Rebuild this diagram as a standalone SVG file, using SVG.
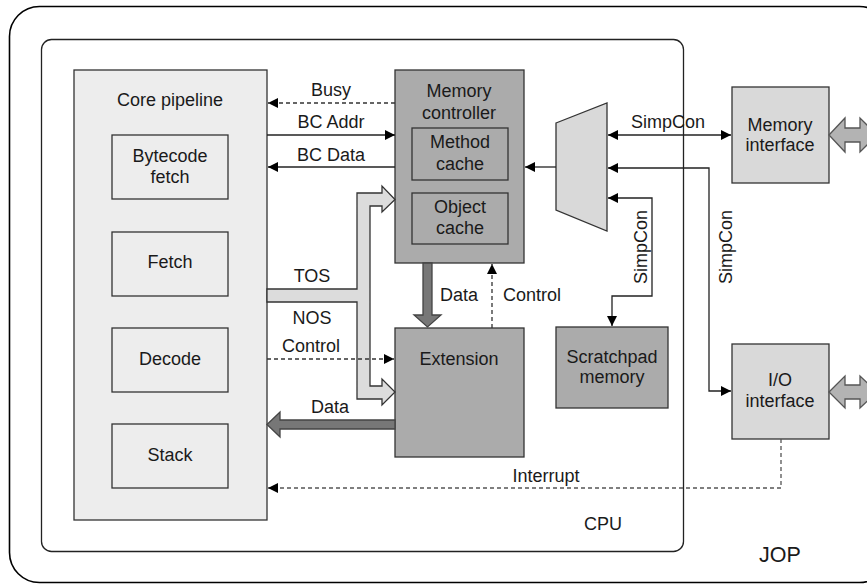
<svg xmlns="http://www.w3.org/2000/svg" width="867" height="584" viewBox="0 0 867 584">
<defs>
<marker id="ah" viewBox="0 0 10 10" refX="10" refY="5" markerWidth="11" markerHeight="10" markerUnits="userSpaceOnUse" orient="auto-start-reverse">
<path d="M0,0 L10,5 L0,10 z" fill="#000"/>
</marker>
<style>
text{font-family:"Liberation Sans",Arial,sans-serif;font-size:18px;fill:#1a1a1a;text-anchor:middle}
.box{stroke:#333;stroke-width:1.3}
.light{fill:#ededed}
.mid{fill:#d9d9d9}
.dark{fill:#ababab}
.ln{fill:none;stroke:#222;stroke-width:1.3}
.dash{fill:none;stroke:#333;stroke-width:1.3;stroke-dasharray:4,3}
.wl{fill:#dcdcdc;stroke:#333;stroke-width:1.3}
.wd{fill:#777;stroke:#444;stroke-width:1.3}
.wg{fill:#b3b3b3;stroke:#555;stroke-width:1.3}
</style>
</defs>
<g id="jop">
<rect x="9.5" y="6.5" width="880" height="576" rx="30" fill="#fff" stroke="#000" stroke-width="1.6"/>
<text x="780" y="562" style="font-size:21.5px">JOP</text>
</g>
<g id="cpu">
<rect x="41.5" y="39.5" width="642" height="512" rx="10" fill="#fff" stroke="#222" stroke-width="1.3"/>
<text x="603" y="530">CPU</text>
</g>
<g id="core-pipeline">
<rect class="box light" x="74" y="70" width="193" height="450"/>
<text x="170" y="106">Core pipeline</text>
</g>
<g id="bytecode-fetch">
<rect class="box light" x="112" y="135" width="116" height="64"/>
<text x="170" y="162">Bytecode</text>
<text x="170" y="183">fetch</text>
</g>
<g id="fetch">
<rect class="box light" x="112" y="232" width="116" height="64"/>
<text x="170" y="268">Fetch</text>
</g>
<g id="decode">
<rect class="box light" x="112" y="328" width="116" height="64"/>
<text x="170" y="365">Decode</text>
</g>
<g id="stack">
<rect class="box light" x="112" y="424" width="116" height="64"/>
<text x="170" y="461">Stack</text>
</g>
<g id="memory-controller">
<rect class="box dark" x="395" y="70" width="129" height="193"/>
<text x="459" y="97">Memory</text>
<text x="459" y="119">controller</text>
</g>
<g id="method-cache">
<rect class="box dark" x="412" y="128" width="96" height="52"/>
<text x="460" y="148">Method</text>
<text x="460" y="170">cache</text>
</g>
<g id="object-cache">
<rect class="box dark" x="412" y="193" width="96" height="51"/>
<text x="460" y="213">Object</text>
<text x="460" y="234">cache</text>
</g>
<g id="extension">
<rect class="box dark" x="395" y="328" width="129" height="129"/>
<text x="459" y="365">Extension</text>
</g>
<g id="mux">
<polygon class="box mid" points="556,123 607,103 607,231 556,210"/>
</g>
<g id="scratchpad">
<rect class="box dark" x="556" y="327" width="112" height="81"/>
<text x="612" y="363">Scratchpad</text>
<text x="612" y="383">memory</text>
</g>
<g id="memory-interface">
<rect class="box mid" x="732" y="87" width="97" height="96"/>
<text x="780" y="131">Memory</text>
<text x="780" y="151">interface</text>
</g>
<g id="io-interface">
<rect class="box mid" x="732" y="344" width="97" height="95"/>
<text x="780" y="386">I/O</text>
<text x="780" y="407">interface</text>
</g>
<g id="connectors">
<line class="dash" x1="395" y1="103" x2="268" y2="103" marker-end="url(#ah)"/>
<text x="331" y="96">Busy</text>
<line class="ln" x1="267" y1="135" x2="395" y2="135" marker-end="url(#ah)"/>
<text x="331" y="128">BC Addr</text>
<line class="ln" x1="395" y1="167" x2="268" y2="167" marker-end="url(#ah)"/>
<text x="331" y="161">BC Data</text>
<line class="ln" x1="556" y1="167" x2="525" y2="167" marker-end="url(#ah)"/>
<line class="ln" x1="608" y1="135" x2="731" y2="135" marker-start="url(#ah)" marker-end="url(#ah)"/>
<text x="668" y="128">SimpCon</text>
<polyline class="ln" points="608,168 709,168 709,391 731,391" marker-start="url(#ah)" marker-end="url(#ah)"/>
<text transform="translate(732,247) rotate(-90)" x="0" y="0">SimpCon</text>
<polyline class="ln" points="608,198 652,198 652,296 612,296 612,326" marker-start="url(#ah)" marker-end="url(#ah)"/>
<text transform="translate(647,247) rotate(-90)" x="0" y="0">SimpCon</text>
<polygon class="wl" points="267,289 357,289 357,193 382,193 382,186 395,199.5 382,212 382,206 370,206 370,386 382,386 382,379 395,392 382,405 382,399 357,399 357,302 267,302"/>
<text x="312" y="282">TOS</text>
<text x="312" y="324">NOS</text>
<line class="dash" x1="267" y1="359" x2="394" y2="359" marker-end="url(#ah)"/>
<text x="311" y="352">Control</text>
<polygon class="wd" points="395,420 280,420 280,412 267,424.5 280,437 280,429 395,429"/>
<text x="330" y="413">Data</text>
<polygon class="wd" points="423,263 432,263 432,315 441,315 427.5,327 414,315 423,315"/>
<text x="459" y="301">Data</text>
<line class="dash" x1="492" y1="328" x2="492" y2="264" marker-end="url(#ah)"/>
<text x="503" y="301" style="text-anchor:start">Control</text>
<polyline class="dash" points="781,439 781,488 268,488" style="stroke:#555" marker-end="url(#ah)"/>
<text x="546" y="482">Interrupt</text>
<polygon class="wg" points="829,135 845,118 845,128 860,128 860,118 877,135 860,152 860,142 845,142 845,152"/>
<polygon class="wg" points="829,392 845,376 845,385 860,385 860,376 877,392 860,408 860,399 845,399 845,408"/>
</g>
</svg>
